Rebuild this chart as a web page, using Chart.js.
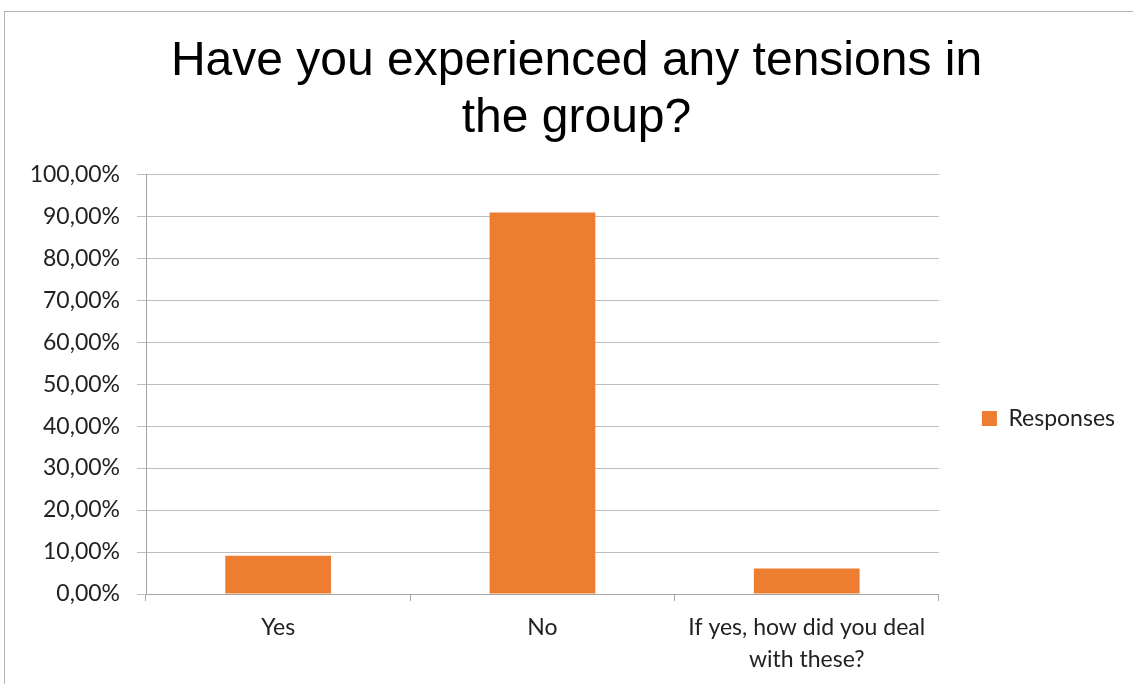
<!DOCTYPE html>
<html>
<head>
<meta charset="utf-8">
<script src="https://cdn.jsdelivr.net/npm/chart.js@4/dist/chart.umd.min.js"></script>
<style>
  html, body { margin: 0; padding: 0; background: #fff; }
  #wrap { position: relative; width: 1133px; height: 684px; }
</style>
</head>
<body>
<div id="wrap"><canvas id="chart" width="1133" height="684"></canvas></div>
<script>
// Survey answers (share of respondents, %)
const categories = ['Yes', 'No', ['If yes, how did you deal', 'with these?']];
const responses = [9.09, 90.91, 6.06];
const seriesName = 'Responses';
const chartTitle = ['Have you experienced any tensions in', 'the group?'];

const labelFont = { family: 'Lato', size: 23 };

// Thin grey frame round the whole chart, like the spreadsheet chart object
const framePlugin = {
  id: 'frame',
  beforeDraw(chart) {
    const ctx = chart.ctx;
    ctx.save();
    ctx.fillStyle = '#fff';
    ctx.fillRect(0, 0, chart.width, chart.height);
    ctx.strokeStyle = '#b3b3b3';
    ctx.lineWidth = 1;
    ctx.strokeRect(4.5, 11.5, chart.width + 20, chart.height + 20);
    ctx.restore();
  }
};

// Nudge the legend down a bit so it sits where the original has it
const legendShift = {
  id: 'legendShift',
  afterLayout(chart) {
    const lg = chart.legend;
    if (lg) {
      lg.top += 71;
      lg.bottom += 71;
    }
  }
};

const ctx = document.getElementById('chart').getContext('2d');
new Chart(ctx, {
  type: 'bar',
  data: {
    labels: categories,
    datasets: [{
      label: seriesName,
      data: responses,
      backgroundColor: '#ED7D31',
      borderWidth: 0,
      categoryPercentage: 1,
      barPercentage: 0.4
    }]
  },
  options: {
    responsive: false,
    animation: false,
    layout: { padding: { top: 11, right: 8, bottom: 0, left: 28 } },
    plugins: {
      title: {
        display: true,
        text: chartTitle,
        color: '#000',
        font: { family: 'Liberation Sans', size: 48, weight: 'normal', lineHeight: 1.19 },
        padding: { top: 22, bottom: 27 }
      },
      legend: {
        position: 'right',
        labels: {
          boxWidth: 15,
          boxHeight: 15,
          padding: 43,
          color: '#222',
          font: labelFont
        }
      },
      tooltip: { enabled: false }
    },
    scales: {
      x: {
        afterFit(scale) { scale.height = 90; },
        grid: {
          drawOnChartArea: false,
          drawTicks: true,
          tickLength: 7,
          color: '#a6a6a6'
        },
        border: { color: '#a6a6a6' },
        ticks: {
          color: '#222',
          font: { family: 'Lato', size: 23, lineHeight: 1.4 },
          padding: 10,
          maxRotation: 0,
          autoSkip: false
        }
      },
      y: {
        min: 0,
        max: 100,
        afterFit(scale) { scale.width = 118; },
        grid: { color: '#bfbfbf', tickLength: 9 },
        border: { color: '#a6a6a6' },
        ticks: {
          stepSize: 10,
          color: '#222',
          font: labelFont,
          padding: 17,
          callback: function(value) {
            return value.toFixed(2).replace('.', ',') + '%';
          }
        }
      }
    }
  },
  plugins: [framePlugin, legendShift]
});
</script>
</body>
</html>
